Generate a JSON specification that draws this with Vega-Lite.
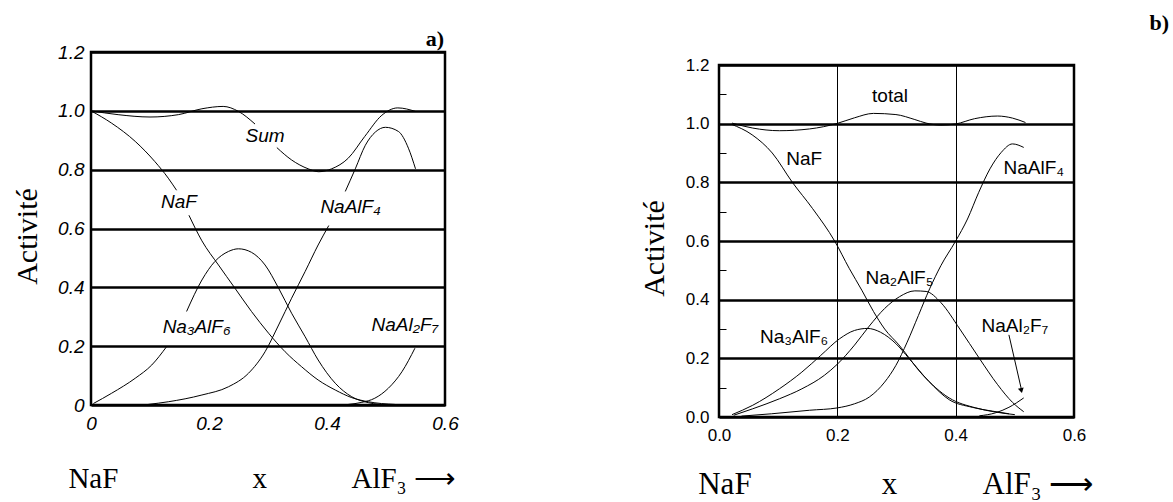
{
  "$schema": "https://vega.github.io/schema/vega-lite/v6.json",
  "background": "white",
  "padding": {"left": 10, "top": 10, "right": 0, "bottom": 0},
  "bounds": "flush",
  "spacing": 274,
  "config": {
    "view": {"stroke": null},
    "axis": {"domain": false, "labelColor": "black", "titleColor": "black", "labelFlush": false, "labelOverlap": false}
  },
  "datasets": {
    "a_curves": [
      {"s": "Sum", "g": 1, "x": 0, "y": 1.0},
      {"s": "Sum", "g": 1, "x": 0.046, "y": 0.987},
      {"s": "Sum", "g": 1, "x": 0.1, "y": 0.979},
      {"s": "Sum", "g": 1, "x": 0.148, "y": 0.987},
      {"s": "Sum", "g": 1, "x": 0.188, "y": 1.007},
      {"s": "Sum", "g": 1, "x": 0.224, "y": 1.015},
      {"s": "Sum", "g": 1, "x": 0.25, "y": 0.998},
      {"s": "Sum", "g": 1, "x": 0.278, "y": 0.955},
      {"s": "Sum", "g": 2, "x": 0.315, "y": 0.875},
      {"s": "Sum", "g": 2, "x": 0.34, "y": 0.833},
      {"s": "Sum", "g": 2, "x": 0.368, "y": 0.803},
      {"s": "Sum", "g": 2, "x": 0.386, "y": 0.793},
      {"s": "Sum", "g": 2, "x": 0.408, "y": 0.803},
      {"s": "Sum", "g": 2, "x": 0.436, "y": 0.839},
      {"s": "Sum", "g": 2, "x": 0.464, "y": 0.913},
      {"s": "Sum", "g": 2, "x": 0.493, "y": 0.985},
      {"s": "Sum", "g": 2, "x": 0.52, "y": 1.01},
      {"s": "Sum", "g": 2, "x": 0.55, "y": 0.998},
      {"s": "NaF", "g": 1, "x": 0, "y": 1.0},
      {"s": "NaF", "g": 1, "x": 0.035, "y": 0.958},
      {"s": "NaF", "g": 1, "x": 0.075, "y": 0.896},
      {"s": "NaF", "g": 1, "x": 0.108, "y": 0.828},
      {"s": "NaF", "g": 1, "x": 0.131, "y": 0.771},
      {"s": "NaF", "g": 1, "x": 0.145, "y": 0.73},
      {"s": "NaF", "g": 2, "x": 0.166, "y": 0.645},
      {"s": "NaF", "g": 2, "x": 0.188, "y": 0.558},
      {"s": "NaF", "g": 2, "x": 0.216, "y": 0.476},
      {"s": "NaF", "g": 2, "x": 0.244, "y": 0.397},
      {"s": "NaF", "g": 2, "x": 0.272, "y": 0.318},
      {"s": "NaF", "g": 2, "x": 0.301, "y": 0.244},
      {"s": "NaF", "g": 2, "x": 0.329, "y": 0.181},
      {"s": "NaF", "g": 2, "x": 0.357, "y": 0.13},
      {"s": "NaF", "g": 2, "x": 0.385, "y": 0.085},
      {"s": "NaF", "g": 2, "x": 0.414, "y": 0.051},
      {"s": "NaF", "g": 2, "x": 0.442, "y": 0.025},
      {"s": "NaF", "g": 2, "x": 0.47, "y": 0.011},
      {"s": "NaF", "g": 2, "x": 0.515, "y": 0.002},
      {"s": "Na3AlF6", "g": 1, "x": 0.004, "y": 0.005},
      {"s": "Na3AlF6", "g": 1, "x": 0.035, "y": 0.04},
      {"s": "Na3AlF6", "g": 1, "x": 0.075, "y": 0.091},
      {"s": "Na3AlF6", "g": 1, "x": 0.103, "y": 0.136},
      {"s": "Na3AlF6", "g": 1, "x": 0.128, "y": 0.198},
      {"s": "Na3AlF6", "g": 2, "x": 0.162, "y": 0.318},
      {"s": "Na3AlF6", "g": 2, "x": 0.188, "y": 0.425},
      {"s": "Na3AlF6", "g": 2, "x": 0.21, "y": 0.488},
      {"s": "Na3AlF6", "g": 2, "x": 0.233, "y": 0.522},
      {"s": "Na3AlF6", "g": 2, "x": 0.25, "y": 0.531},
      {"s": "Na3AlF6", "g": 2, "x": 0.272, "y": 0.519},
      {"s": "Na3AlF6", "g": 2, "x": 0.295, "y": 0.476},
      {"s": "Na3AlF6", "g": 2, "x": 0.318, "y": 0.397},
      {"s": "Na3AlF6", "g": 2, "x": 0.34, "y": 0.312},
      {"s": "Na3AlF6", "g": 2, "x": 0.363, "y": 0.232},
      {"s": "Na3AlF6", "g": 2, "x": 0.385, "y": 0.153},
      {"s": "Na3AlF6", "g": 2, "x": 0.414, "y": 0.074},
      {"s": "Na3AlF6", "g": 2, "x": 0.442, "y": 0.028},
      {"s": "Na3AlF6", "g": 2, "x": 0.47, "y": 0.008},
      {"s": "Na3AlF6", "g": 2, "x": 0.504, "y": 0.0},
      {"s": "NaAlF4", "g": 1, "x": 0.097, "y": 0.002},
      {"s": "NaAlF4", "g": 1, "x": 0.131, "y": 0.011},
      {"s": "NaAlF4", "g": 1, "x": 0.188, "y": 0.034},
      {"s": "NaAlF4", "g": 1, "x": 0.233, "y": 0.062},
      {"s": "NaAlF4", "g": 1, "x": 0.267, "y": 0.108},
      {"s": "NaAlF4", "g": 1, "x": 0.295, "y": 0.181},
      {"s": "NaAlF4", "g": 1, "x": 0.318, "y": 0.272},
      {"s": "NaAlF4", "g": 1, "x": 0.34, "y": 0.363},
      {"s": "NaAlF4", "g": 1, "x": 0.363, "y": 0.454},
      {"s": "NaAlF4", "g": 1, "x": 0.385, "y": 0.544},
      {"s": "NaAlF4", "g": 1, "x": 0.403, "y": 0.61},
      {"s": "NaAlF4", "g": 2, "x": 0.431, "y": 0.726},
      {"s": "NaAlF4", "g": 2, "x": 0.448, "y": 0.803},
      {"s": "NaAlF4", "g": 2, "x": 0.465, "y": 0.883},
      {"s": "NaAlF4", "g": 2, "x": 0.482, "y": 0.928},
      {"s": "NaAlF4", "g": 2, "x": 0.499, "y": 0.944},
      {"s": "NaAlF4", "g": 2, "x": 0.521, "y": 0.93},
      {"s": "NaAlF4", "g": 2, "x": 0.538, "y": 0.873},
      {"s": "NaAlF4", "g": 2, "x": 0.55, "y": 0.803},
      {"s": "NaAl2F7", "g": 1, "x": 0.436, "y": 0.002},
      {"s": "NaAl2F7", "g": 1, "x": 0.459, "y": 0.009},
      {"s": "NaAl2F7", "g": 1, "x": 0.481, "y": 0.023},
      {"s": "NaAl2F7", "g": 1, "x": 0.504, "y": 0.057},
      {"s": "NaAl2F7", "g": 1, "x": 0.527, "y": 0.113},
      {"s": "NaAl2F7", "g": 1, "x": 0.549, "y": 0.193}
    ],
    "a_labels": [
      {"label": "Sum", "x": 0.295, "y": 0.913},
      {"label": "NaF", "x": 0.149, "y": 0.69},
      {"label": "NaAlF₄", "x": 0.44, "y": 0.672},
      {"label": "Na₃AlF₆", "x": 0.179, "y": 0.266},
      {"label": "NaAl₂F₇", "x": 0.532, "y": 0.272}
    ],
    "a_bottom": [
      {"label": "NaF", "x": 0.004, "y": -0.252},
      {"label": "x", "x": 0.286, "y": -0.252},
      {"label": "AlF₃ ⟶", "x": 0.53, "y": -0.252}
    ],
    "a_tag": [{"label": "a)", "x": 0.583, "y": 1.245}],
    "b_curves": [
      {"s": "total", "x": 0.022, "y": 1.002},
      {"s": "total", "x": 0.057, "y": 0.985},
      {"s": "total", "x": 0.102, "y": 0.976},
      {"s": "total", "x": 0.153, "y": 0.982},
      {"s": "total", "x": 0.2, "y": 1.001},
      {"s": "total", "x": 0.229, "y": 1.02},
      {"s": "total", "x": 0.261, "y": 1.035},
      {"s": "total", "x": 0.299, "y": 1.031},
      {"s": "total", "x": 0.331, "y": 1.014},
      {"s": "total", "x": 0.35, "y": 1.002},
      {"s": "total", "x": 0.375, "y": 0.995},
      {"s": "total", "x": 0.4, "y": 0.999},
      {"s": "total", "x": 0.432, "y": 1.017},
      {"s": "total", "x": 0.471, "y": 1.026},
      {"s": "total", "x": 0.496, "y": 1.019},
      {"s": "total", "x": 0.518, "y": 1.004},
      {"s": "NaF", "x": 0.021, "y": 0.998},
      {"s": "NaF", "x": 0.056, "y": 0.962},
      {"s": "NaF", "x": 0.09, "y": 0.9},
      {"s": "NaF", "x": 0.124, "y": 0.8},
      {"s": "NaF", "x": 0.158, "y": 0.711},
      {"s": "NaF", "x": 0.196, "y": 0.598},
      {"s": "NaF", "x": 0.22, "y": 0.507},
      {"s": "NaF", "x": 0.242, "y": 0.43},
      {"s": "NaF", "x": 0.261, "y": 0.36},
      {"s": "NaF", "x": 0.28, "y": 0.3},
      {"s": "NaF", "x": 0.304, "y": 0.246},
      {"s": "NaF", "x": 0.344, "y": 0.144},
      {"s": "NaF", "x": 0.389, "y": 0.065},
      {"s": "NaF", "x": 0.434, "y": 0.031},
      {"s": "NaF", "x": 0.467, "y": 0.017},
      {"s": "NaF", "x": 0.5, "y": 0.008},
      {"s": "Na3AlF6", "x": 0.022, "y": 0.008},
      {"s": "Na3AlF6", "x": 0.057, "y": 0.04},
      {"s": "Na3AlF6", "x": 0.102, "y": 0.096},
      {"s": "Na3AlF6", "x": 0.14, "y": 0.153},
      {"s": "Na3AlF6", "x": 0.172, "y": 0.21},
      {"s": "Na3AlF6", "x": 0.204, "y": 0.267},
      {"s": "Na3AlF6", "x": 0.229, "y": 0.295},
      {"s": "Na3AlF6", "x": 0.251, "y": 0.302},
      {"s": "Na3AlF6", "x": 0.273, "y": 0.289},
      {"s": "Na3AlF6", "x": 0.299, "y": 0.25},
      {"s": "Na3AlF6", "x": 0.321, "y": 0.2},
      {"s": "Na3AlF6", "x": 0.355, "y": 0.121},
      {"s": "Na3AlF6", "x": 0.389, "y": 0.059},
      {"s": "Na3AlF6", "x": 0.428, "y": 0.033},
      {"s": "Na3AlF6", "x": 0.462, "y": 0.02},
      {"s": "Na3AlF6", "x": 0.49, "y": 0.011},
      {"s": "Na2AlF5", "x": 0.025, "y": 0.006},
      {"s": "Na2AlF5", "x": 0.057, "y": 0.028},
      {"s": "Na2AlF5", "x": 0.102, "y": 0.062},
      {"s": "Na2AlF5", "x": 0.14, "y": 0.096},
      {"s": "Na2AlF5", "x": 0.178, "y": 0.142},
      {"s": "Na2AlF5", "x": 0.2, "y": 0.18},
      {"s": "Na2AlF5", "x": 0.229, "y": 0.245},
      {"s": "Na2AlF5", "x": 0.254, "y": 0.31},
      {"s": "Na2AlF5", "x": 0.28, "y": 0.37},
      {"s": "Na2AlF5", "x": 0.305, "y": 0.41},
      {"s": "Na2AlF5", "x": 0.331, "y": 0.43},
      {"s": "Na2AlF5", "x": 0.35, "y": 0.428},
      {"s": "Na2AlF5", "x": 0.375, "y": 0.39},
      {"s": "Na2AlF5", "x": 0.407, "y": 0.3},
      {"s": "Na2AlF5", "x": 0.44, "y": 0.2},
      {"s": "Na2AlF5", "x": 0.471, "y": 0.11},
      {"s": "Na2AlF5", "x": 0.496, "y": 0.05},
      {"s": "Na2AlF5", "x": 0.515, "y": 0.018},
      {"s": "NaAlF4", "x": 0.038, "y": 0.003},
      {"s": "NaAlF4", "x": 0.089, "y": 0.011},
      {"s": "NaAlF4", "x": 0.153, "y": 0.023},
      {"s": "NaAlF4", "x": 0.2, "y": 0.031},
      {"s": "NaAlF4", "x": 0.229, "y": 0.045},
      {"s": "NaAlF4", "x": 0.254, "y": 0.068},
      {"s": "NaAlF4", "x": 0.28, "y": 0.119},
      {"s": "NaAlF4", "x": 0.299, "y": 0.176},
      {"s": "NaAlF4", "x": 0.318, "y": 0.255},
      {"s": "NaAlF4", "x": 0.337, "y": 0.346},
      {"s": "NaAlF4", "x": 0.356, "y": 0.437},
      {"s": "NaAlF4", "x": 0.375, "y": 0.516},
      {"s": "NaAlF4", "x": 0.4, "y": 0.6},
      {"s": "NaAlF4", "x": 0.42, "y": 0.675},
      {"s": "NaAlF4", "x": 0.439, "y": 0.766},
      {"s": "NaAlF4", "x": 0.458, "y": 0.846},
      {"s": "NaAlF4", "x": 0.477, "y": 0.902},
      {"s": "NaAlF4", "x": 0.496, "y": 0.931},
      {"s": "NaAlF4", "x": 0.515, "y": 0.919},
      {"s": "NaAl2F7", "x": 0.44, "y": 0.004},
      {"s": "NaAl2F7", "x": 0.467, "y": 0.014},
      {"s": "NaAl2F7", "x": 0.49, "y": 0.033},
      {"s": "NaAl2F7", "x": 0.515, "y": 0.065}
    ],
    "b_labels": [
      {"label": "total", "x": 0.289, "y": 1.095},
      {"label": "NaF", "x": 0.144, "y": 0.879},
      {"label": "NaAlF₄", "x": 0.532, "y": 0.85},
      {"label": "Na₂AlF₅", "x": 0.305, "y": 0.474},
      {"label": "Na₃AlF₆", "x": 0.127, "y": 0.272},
      {"label": "NaAl₂F₇", "x": 0.5, "y": 0.31}
    ],
    "b_arrow": [{"x": 0.49, "y": 0.28, "x2": 0.511, "y2": 0.095}],
    "b_head": [{"x": 0.511, "y": 0.09}],
    "b_bottom": [
      {"label": "NaF", "x": 0.01, "y": -0.232},
      {"label": "x", "x": 0.288, "y": -0.232},
      {"label": "AlF₃ ⟶", "x": 0.539, "y": -0.232}
    ],
    "b_tag": [{"label": "b)", "x": 0.744, "y": 1.343}]
  },
  "hconcat": [
    {
      "width": 354,
      "height": 353,
      "view": {"stroke": "black", "strokeWidth": 2.5},
      "encoding": {
        "x": {
          "field": "x", "type": "quantitative",
          "scale": {"domain": [0, 0.6], "nice": false, "zero": false},
          "axis": {
            "values": [0, 0.2, 0.4, 0.6],
            "labelExpr": "datum.value == 0 ? '0' : format(datum.value, '.1f')",
            "labelFont": "Liberation Sans", "labelFontStyle": "italic", "labelFontSize": 19,
            "labelPadding": 9, "ticks": false, "grid": false, "title": null
          }
        },
        "y": {
          "field": "y", "type": "quantitative",
          "scale": {"domain": [0, 1.2], "nice": false, "zero": false},
          "axis": {
            "values": [0, 0.2, 0.4, 0.6, 0.8, 1.0, 1.2],
            "labelExpr": "datum.value == 0 ? '0' : format(datum.value, '.1f')",
            "labelFont": "Liberation Sans", "labelFontStyle": "italic", "labelFontSize": 19,
            "labelPadding": 7, "ticks": false,
            "grid": true, "gridColor": "black", "gridWidth": 2.5, "gridOpacity": 1,
            "title": "Activité", "titleFont": "Liberation Serif", "titleFontSize": 30,
            "titleFontWeight": "normal", "titleX": -64, "titleY": 184, "titleBaseline": "middle"
          }
        }
      },
      "layer": [
        {
          "data": {"name": "a_curves"},
          "mark": {"type": "line", "interpolate": "monotone", "color": "black", "strokeWidth": 1},
          "encoding": {"detail": [{"field": "s", "type": "nominal"}, {"field": "g", "type": "nominal"}]}
        },
        {
          "data": {"name": "a_labels"},
          "mark": {"type": "text", "font": "Liberation Sans", "fontStyle": "italic", "fontSize": 19, "color": "black", "baseline": "middle", "align": "center"},
          "encoding": {"text": {"field": "label"}}
        },
        {
          "data": {"name": "a_bottom"},
          "mark": {"type": "text", "font": "Liberation Serif", "fontSize": 29, "color": "black", "baseline": "middle", "align": "center"},
          "encoding": {"text": {"field": "label"}}
        },
        {
          "data": {"name": "a_tag"},
          "mark": {"type": "text", "font": "Liberation Serif", "fontWeight": "bold", "fontSize": 22, "color": "black", "baseline": "middle", "align": "center"},
          "encoding": {"text": {"field": "label"}}
        }
      ]
    },
    {
      "vconcat": [
        {"width": 355, "height": 13, "data": {"values": []}, "mark": "point"},
        {
          "width": 355,
          "height": 352,
          "view": {"stroke": "black", "strokeWidth": 2.5},
          "encoding": {
            "x": {
              "field": "x", "type": "quantitative",
              "scale": {"domain": [0, 0.6], "nice": false, "zero": false},
              "axis": {
                "values": [0, 0.2, 0.4, 0.6], "format": ".1f",
                "labelFont": "Liberation Sans", "labelFontSize": 17,
                "labelPadding": 10, "ticks": false,
                "grid": true, "gridColor": "black", "gridWidth": 1, "gridOpacity": 1, "title": null
              }
            },
            "y": {
              "field": "y", "type": "quantitative",
              "scale": {"domain": [0, 1.2], "nice": false, "zero": false},
              "axis": {
                "values": [0, 0.1, 0.2, 0.3, 0.4, 0.5, 0.6, 0.7, 0.8, 0.9, 1.0, 1.1, 1.2],
                "labelExpr": "round(datum.value * 10) % 2 == 0 ? format(datum.value, '.1f') : ''",
                "labelFont": "Liberation Sans", "labelFontSize": 17,
                "ticks": true, "tickSize": -7, "tickColor": "black", "tickWidth": 1,
                "labelPadding": 17,
                "grid": true, "gridColor": "black", "gridWidth": 2.5,
                "gridOpacity": {"condition": {"test": "round(datum.value * 10) % 2 == 0", "value": 1}, "value": 0},
                "title": "Activité", "titleFont": "Liberation Serif", "titleFontSize": 30,
                "titleFontWeight": "normal", "titleX": -65, "titleY": 183, "titleBaseline": "middle"
              }
            }
          },
          "layer": [
            {
              "data": {"name": "b_curves"},
              "mark": {"type": "line", "interpolate": "monotone", "color": "black", "strokeWidth": 1},
              "encoding": {"detail": {"field": "s", "type": "nominal"}}
            },
            {
              "data": {"name": "b_arrow"},
              "mark": {"type": "rule", "color": "black", "strokeWidth": 1},
              "encoding": {"x2": {"field": "x2"}, "y2": {"field": "y2"}}
            },
            {
              "data": {"name": "b_head"},
              "mark": {"type": "point", "shape": "triangle-down", "filled": true, "color": "black", "size": 35, "angle": 347, "opacity": 1},
              "encoding": {}
            },
            {
              "data": {"name": "b_labels"},
              "mark": {"type": "text", "font": "Liberation Sans", "fontSize": 19, "color": "black", "baseline": "middle", "align": "center"},
              "encoding": {"text": {"field": "label"}}
            },
            {
              "data": {"name": "b_bottom"},
              "mark": {"type": "text", "font": "Liberation Serif", "fontSize": 31, "color": "black", "baseline": "middle", "align": "center"},
              "encoding": {"text": {"field": "label"}}
            },
            {
              "data": {"name": "b_tag"},
              "mark": {"type": "text", "font": "Liberation Serif", "fontWeight": "bold", "fontSize": 22, "color": "black", "baseline": "middle", "align": "center"},
              "encoding": {"text": {"field": "label"}}
            }
          ]
        }
      ],
      "spacing": 0,
      "bounds": "flush"
    }
  ]
}
